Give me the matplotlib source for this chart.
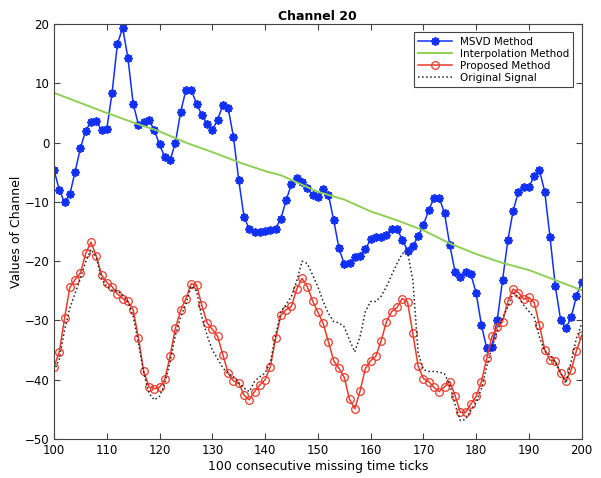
import numpy as np
import matplotlib.pyplot as plt

# time ticks 100..200
ticks = np.arange(100, 201)

msvd = [
    -4.6, -8.0, -10.1, -8.7, -4.9, -0.9, 2.0, 3.5, 3.6, 2.1,
    2.3, 8.4, 16.6, 19.4, 14.3, 6.6, 3.0, 3.5, 3.8, 2.1,
    -0.3, -2.5, -3.0, 0.0, 5.2, 8.9, 8.9, 6.6, 4.7, 3.1,
    2.1, 3.9, 6.3, 5.8, 1.0, -6.3, -12.5, -14.6, -15.0, -15.0,
    -14.9, -14.8, -14.5, -12.8, -9.7, -7.0, -5.9, -6.6, -7.7, -8.9,
    -9.1, -7.9, -8.8, -13.1, -17.8, -20.5, -20.3, -19.3, -19.1, -18.0,
    -16.3, -15.9, -16.0, -15.5, -14.5, -14.5, -16.4, -18.2, -17.5, -15.8,
    -13.9, -11.4, -9.4, -9.3, -11.9, -17.3, -21.8, -22.6, -21.8, -22.2,
    -25.4, -30.8, -34.7, -34.4, -29.9, -23.2, -16.5, -11.5, -8.3, -7.5,
    -7.5, -5.6, -4.7, -8.3, -16.0, -24.2, -29.9, -31.3, -29.5, -25.9,
    -23.5,
]

interp_ticks = [100, 105, 110, 115, 120, 125, 130, 135, 140, 143, 145, 150,
                155, 160, 165, 170, 175, 180, 185, 190, 195, 200]
interp = [8.4, 6.7, 5.0, 3.4, 1.9, 0.0, -1.6, -3.3, -4.8, -5.5, -6.3, -8.3,
          -9.6, -11.6, -13.1, -14.8, -17.0, -18.8, -20.3, -21.5, -23.2, -24.9]

proposed = [
    -37.8, -35.3, -29.6, -24.4, -23.1, -22.0, -18.7, -16.8, -19.1, -22.3,
    -23.6, -24.3, -25.5, -26.3, -26.8, -28.2, -33.0, -38.6, -41.2, -41.5,
    -41.3, -39.9, -36.0, -31.3, -28.3, -26.3, -23.8, -24.0, -27.4, -30.4,
    -31.5, -32.7, -35.8, -38.9, -40.2, -40.6, -42.6, -43.4, -42.0, -40.9,
    -40.0, -37.8, -33.0, -29.1, -28.2, -27.6, -24.7, -22.9, -24.3, -26.7,
    -28.6, -30.5, -33.6, -36.8, -38.1, -39.6, -43.3, -44.9, -41.9, -38.1,
    -36.8, -36.0, -33.4, -30.2, -28.5, -27.8, -26.3, -26.9, -32.2, -37.7,
    -39.8, -40.3, -41.3, -42.0, -41.2, -40.3, -42.7, -45.5, -45.5, -44.1,
    -42.8, -40.3, -36.4, -32.7, -31.1, -30.2, -26.8, -24.7, -25.3, -26.4,
    -26.1, -27.0, -30.8, -35.0, -36.7, -36.9, -38.9, -40.2, -38.4, -35.1,
    -32.5,
]

original = [
    -38.5, -36.5, -31.6, -27.9, -25.4, -22.9, -20.1, -18.0, -19.3, -22.9,
    -24.3, -24.9, -25.0, -25.7, -26.8, -29.3, -33.8, -38.9, -42.3, -43.4,
    -42.8, -40.6, -37.0, -32.5, -29.4, -27.2, -24.2, -25.0, -29.4, -32.5,
    -35.0, -36.5, -38.0, -39.0, -39.5, -40.5, -41.4, -42.0, -40.3, -39.5,
    -38.9, -37.0, -32.5, -28.5, -27.3, -25.9, -23.3, -20.0, -20.4, -22.3,
    -24.3, -26.8, -28.8, -30.2, -30.4, -31.1, -33.3, -35.3, -32.7, -28.5,
    -26.8, -26.8, -25.9, -24.3, -22.3, -20.4, -18.7, -18.5, -23.2, -35.5,
    -38.3, -38.6, -38.6, -38.7, -39.0, -40.9, -44.2, -46.9, -46.7, -45.1,
    -43.8, -41.5, -37.8, -34.5, -31.8, -29.6, -27.7, -25.4, -26.0, -27.4,
    -28.5, -29.5, -32.8, -35.2, -35.8, -37.0, -38.8, -40.6, -37.0, -33.0,
    -30.5,
]

fig = plt.figure(figsize=(6.01, 4.78), dpi=100)
ax = fig.add_axes([0.0899, 0.0816, 0.878, 0.868])

# MATLAB-like asterisk marker (8 arms)
ax.plot(ticks, msvd, "-", marker=(8, 2, 0), color="#1030f5", lw=1.1, ms=6,
        mew=1.3, label="MSVD Method")
ax.plot(interp_ticks, interp, "-", color="#8fcf56", lw=1.4, label="Interpolation Method")
ax.plot(ticks, proposed, "-o", color="#ea3b2c", lw=1.1, ms=5.5, mfc="none",
        mew=0.9, label="Proposed Method")
ax.plot(ticks, original, ":", color="#222222", lw=1.1, label="Original Signal")

ax.set_xlim(100, 200)
ax.set_ylim(-50, 20)
ax.set_xticks(np.arange(100, 201, 10))
ax.set_yticks(np.arange(-50, 21, 10))
ax.tick_params(direction="in", labelsize=8.5, length=4, top=True, right=True,
               color="#444444")
for s in ax.spines.values():
    s.set_color("#444444")
    s.set_linewidth(0.8)

ax.set_title("Channel 20", fontsize=9, fontweight="bold", pad=3)
ax.set_xlabel("100 consecutive missing time ticks", fontsize=9, labelpad=2)
ax.set_ylabel("Values of Channel", fontsize=9, labelpad=1)

leg = ax.legend(loc="upper right", fontsize=7.5, frameon=True, fancybox=False,
                edgecolor="#444444", framealpha=1, borderaxespad=0.8,
                handlelength=3.2, labelspacing=0.2, borderpad=0.4)
leg.get_frame().set_linewidth(0.8)

fig.savefig("out.png", dpi=100)
